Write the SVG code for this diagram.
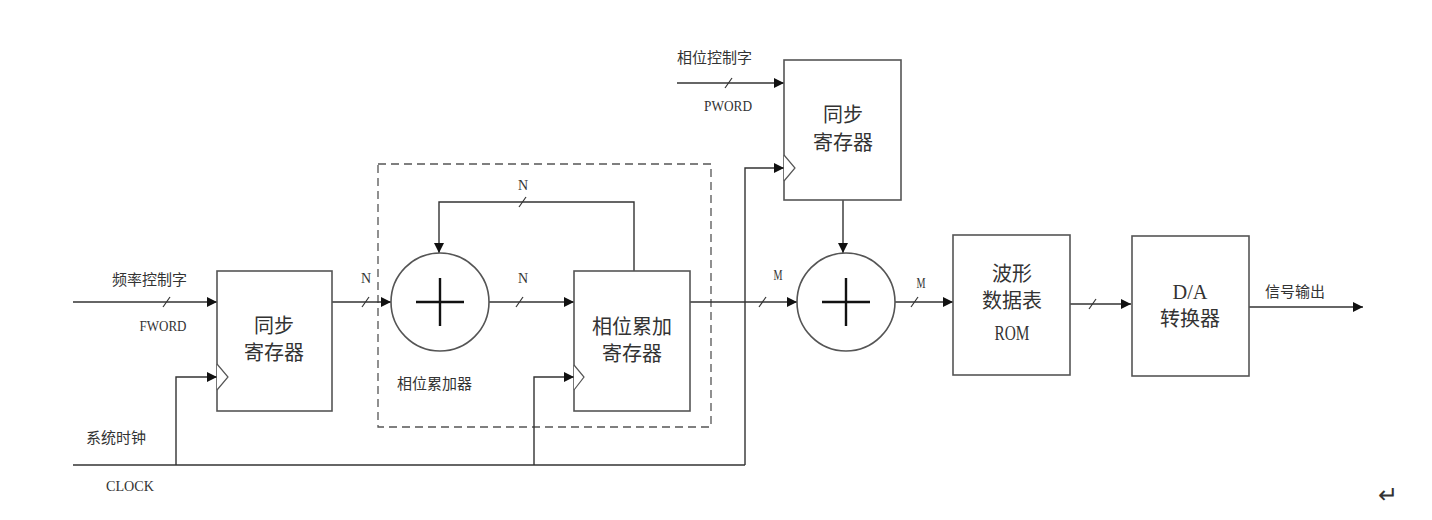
<svg xmlns="http://www.w3.org/2000/svg" width="1432" height="520" viewBox="0 0 1432 520">
<defs>
<marker id="arr" viewBox="0 0 10 10" refX="10" refY="5" markerWidth="10" markerHeight="10" markerUnits="userSpaceOnUse" orient="auto"><path d="M0,0 L10,5 L0,10 z" fill="#111"/></marker>
<style>
.box{fill:#fff;stroke:#555;stroke-width:1.6}
.ln{fill:none;stroke:#333;stroke-width:1.4}
.sl{stroke:#333;stroke-width:1.2}
.clk{fill:#fff;stroke:#555;stroke-width:1.2}
.cn{font-family:"Noto Sans CJK SC",sans-serif;fill:#333}
.lat{font-family:"Liberation Serif","DejaVu Serif",serif;fill:#333}
.big{font-size:20px;text-anchor:middle}
.sm{font-size:15px}
.lb{font-size:15px;text-anchor:middle}
.nm{font-size:14px;text-anchor:middle}
</style>
</defs>
<rect width="1432" height="520" fill="#fff"/>
<rect id="accumulator-group" x="378" y="164" width="333" height="263" fill="none" stroke="#555" stroke-width="1.3" stroke-dasharray="8,5"/>
<g id="connectors">
<path class="ln" d="M73,302 H217" marker-end="url(#arr)"/>
<path class="ln" d="M332,302 H391" marker-end="url(#arr)"/>
<path class="ln" d="M634,271 V202 H439 V253" marker-end="url(#arr)"/>
<path class="ln" d="M489,302 H574" marker-end="url(#arr)"/>
<path class="ln" d="M690,302 H797" marker-end="url(#arr)"/>
<path class="ln" d="M677,83 H784" marker-end="url(#arr)"/>
<path class="ln" d="M843,200 V253" marker-end="url(#arr)"/>
<path class="ln" d="M895,302 H953" marker-end="url(#arr)"/>
<path class="ln" d="M1070,304 H1131" marker-end="url(#arr)"/>
<path class="ln" d="M1249,307 H1363" marker-end="url(#arr)"/>
<path class="ln" d="M73,465 H745"/>
<path class="ln" d="M176,465 V377 H217" marker-end="url(#arr)"/>
<path class="ln" d="M534,465 V377 H574" marker-end="url(#arr)"/>
<path class="ln" d="M745,465 V168 H784" marker-end="url(#arr)"/>
<line class="sl" x1="163" y1="307" x2="170" y2="297"/>
<line class="sl" x1="362" y1="307" x2="369" y2="297"/>
<line class="sl" x1="519" y1="207" x2="526" y2="197"/>
<line class="sl" x1="516" y1="307" x2="523" y2="297"/>
<line class="sl" x1="759" y1="307" x2="766" y2="297"/>
<line class="sl" x1="725" y1="88" x2="732" y2="78"/>
<line class="sl" x1="911" y1="307" x2="918" y2="297"/>
<line class="sl" x1="1089" y1="309" x2="1096" y2="299"/>
</g>
<g id="labels">
<text class="cn sm" x="112" y="285">频率控制字</text>
<text class="lat lb" x="163" y="331" textLength="47" lengthAdjust="spacingAndGlyphs">FWORD</text>
<text class="cn sm" x="86" y="443">系统时钟</text>
<text class="lat lb" x="130" y="491" textLength="48" lengthAdjust="spacingAndGlyphs">CLOCK</text>
<text class="lat nm" x="366" y="283">N</text>
<text class="lat nm" x="523" y="190">N</text>
<text class="lat nm" x="523" y="283">N</text>
<text class="cn sm" x="397" y="389">相位累加器</text>
<text class="cn sm" x="677" y="63">相位控制字</text>
<text class="lat lb" x="728" y="111" textLength="48" lengthAdjust="spacingAndGlyphs">PWORD</text>
<text class="lat nm" x="778" y="280" textLength="9" lengthAdjust="spacingAndGlyphs">M</text>
<text class="lat nm" x="921" y="288" textLength="9" lengthAdjust="spacingAndGlyphs">M</text>
<text class="cn sm" x="1265" y="297">信号输出</text>
<text class="cn" x="1378" y="503" font-size="24" fill="#aaa">↵</text>
</g>
<g id="sync-reg-1">
<rect class="box" x="217" y="271" width="115" height="140"/>
<path class="clk" d="M217,364 L228,377 L217,390"/>
<text class="cn big" x="274" y="333">同步</text>
<text class="cn big" x="274" y="360">寄存器</text>
</g>
<g id="adder-1">
<circle class="box" cx="440" cy="302" r="49"/>
<path d="M416,302 H464 M440,278 V326" stroke="#111" stroke-width="2.4"/>
</g>
<g id="acc-reg">
<rect class="box" x="574" y="271" width="116" height="140"/>
<path class="clk" d="M574,365 L584,377 L574,390"/>
<text class="cn big" x="632" y="334">相位累加</text>
<text class="cn big" x="632" y="361">寄存器</text>
</g>
<g id="sync-reg-2">
<rect class="box" x="784" y="60" width="117" height="140"/>
<path class="clk" d="M784,155 L795,168 L784,181"/>
<text class="cn big" x="843" y="122">同步</text>
<text class="cn big" x="843" y="150">寄存器</text>
</g>
<g id="adder-2">
<circle class="box" cx="846" cy="302" r="49"/>
<path d="M822,302 H870 M846,278 V326" stroke="#111" stroke-width="2.4"/>
</g>
<g id="rom">
<rect class="box" x="953" y="235" width="117" height="140"/>
<text class="cn big" x="1012" y="281">波形</text>
<text class="cn big" x="1012" y="308">数据表</text>
<text class="lat" x="1012" y="340" font-size="20" text-anchor="middle" textLength="35" lengthAdjust="spacingAndGlyphs">ROM</text>
</g>
<g id="dac">
<rect class="box" x="1132" y="236" width="117" height="140"/>
<text class="lat" x="1190" y="299" font-size="20" text-anchor="middle" textLength="35" lengthAdjust="spacingAndGlyphs">D/A</text>
<text class="cn big" x="1190" y="326">转换器</text>
</g>
</svg>
